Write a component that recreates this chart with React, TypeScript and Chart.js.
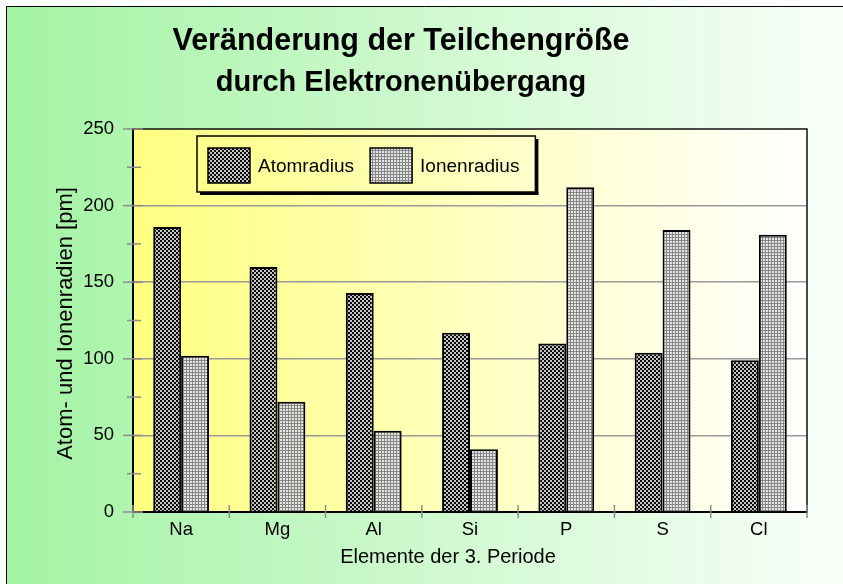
import React, { useEffect, useRef } from "react";
import { Chart, registerables } from "chart.js";

Chart.register(...registerables);

// ---- data ----
const categories = ["Na", "Mg", "Al", "Si", "P", "S", "Cl"];
const atomRadius = [186, 160, 143, 117, 110, 104, 99];
const ionRadius = [102, 72, 53, 41, 212, 184, 181];
const seriesLabels = ["Atomradius", "Ionenradius"];
const titleLines = ["Veränderung der Teilchengröße", "durch Elektronenübergang"];
const xAxisTitle = "Elemente der 3. Periode";
const yAxisTitle = "Atom- und Ionenradien [pm]";
const yMin = 0;
const yMax = 250;
const yMajorStep = 50;
const yMinorStep = 25;

const FONT = "'Liberation Sans', Arial, Helvetica, sans-serif";

function makePattern(
  ctx: CanvasRenderingContext2D,
  size: number,
  fn: (x: number, y: number) => string
) {
  const c = document.createElement("canvas");
  c.width = size;
  c.height = size;
  const t = c.getContext("2d")!;
  for (let y = 0; y < size; y++) {
    for (let x = 0; x < size; x++) {
      t.fillStyle = fn(x, y);
      t.fillRect(x, y, 1, 1);
    }
  }
  return ctx.createPattern(c, "repeat")!;
}

const decorPlugin = {
  id: "decor",
  beforeDraw(chart: any) {
    const { ctx, width, height, chartArea: a } = chart;
    ctx.save();
    ctx.fillStyle = "#ffffff";
    ctx.fillRect(0, 0, width, height);
    const g = ctx.createLinearGradient(6, 0, 900, 0);
    g.addColorStop(0, "#a3f3a3");
    g.addColorStop(1, "#ffffff");
    ctx.fillStyle = g;
    ctx.fillRect(6, 6, width - 6, height - 6);
    ctx.strokeStyle = "#000";
    ctx.lineWidth = 1;
    ctx.beginPath();
    ctx.moveTo(6.5, height);
    ctx.lineTo(6.5, 6.5);
    ctx.lineTo(width, 6.5);
    ctx.stroke();
    const pg = ctx.createLinearGradient(a.left, 0, a.right, 0);
    pg.addColorStop(0, "#ffff80");
    pg.addColorStop(1, "#ffffff");
    ctx.fillStyle = pg;
    ctx.fillRect(a.left, a.top, a.right - a.left, a.bottom - a.top);
    ctx.restore();
  },
  afterDraw(chart: any) {
    const { ctx, chartArea: a, scales } = chart;
    const xs = scales.x;
    const ys = scales.y;
    ctx.save();

    // frame top / right
    ctx.strokeStyle = "#111";
    ctx.lineWidth = 1.5;
    ctx.beginPath();
    ctx.moveTo(a.left, a.top);
    ctx.lineTo(a.right, a.top);
    ctx.lineTo(a.right, a.bottom);
    ctx.stroke();

    // y tick marks (major + minor)
    ctx.strokeStyle = "#8c8c8c";
    ctx.lineWidth = 1.5;
    for (let v = yMin; v <= yMax; v += yMinorStep) {
      const p = ys.getPixelForValue(v);
      const major = v % yMajorStep === 0;
      ctx.beginPath();
      ctx.moveTo(a.left - (major ? 10 : 6), p);
      ctx.lineTo(a.left + (major ? 10 : 8), p);
      ctx.stroke();
    }
    // x tick marks at category boundaries
    for (let i = 0; i <= categories.length; i++) {
      const p = xs.getPixelForValue(i - 0.5);
      ctx.beginPath();
      ctx.moveTo(p, a.bottom - 7);
      ctx.lineTo(p, a.bottom + 6);
      ctx.stroke();
    }

    // legend
    const ds = chart.data.datasets;
    const L = a.left + 64;
    const T = a.top + 7;
    const H = 56;
    ctx.font = `19px ${FONT}`;
    ctx.textBaseline = "alphabetic";
    ctx.textAlign = "left";
    let x = L + 11;
    const items: { sx: number; tx: number; label: string; bg: any }[] = [];
    ds.forEach((d: any) => {
      const tw = ctx.measureText(d.label).width;
      items.push({ sx: x, tx: x + 42 + 8, label: d.label, bg: d.backgroundColor });
      x += 42 + 8 + tw + 16;
    });
    const R = x;
    ctx.fillStyle = "#000";
    ctx.fillRect(L + 3, T + H, R - L, 3);
    ctx.fillRect(R, T + 3, 3, H);
    ctx.strokeStyle = "#000";
    ctx.lineWidth = 1.5;
    ctx.strokeRect(L, T, R - L, H);
    items.forEach((it) => {
      ctx.fillStyle = it.bg;
      ctx.fillRect(it.sx, T + 12, 42, 35);
      ctx.strokeStyle = "#000";
      ctx.lineWidth = 1.5;
      ctx.strokeRect(it.sx, T + 12, 42, 35);
      ctx.fillStyle = "#000";
      ctx.fillText(it.label, it.tx, T + 36);
    });

    // title
    ctx.fillStyle = "#000";
    ctx.textAlign = "center";
    ctx.font = `bold 30.5px ${FONT}`;
    ctx.fillText(titleLines[0], 401, 50);
    ctx.font = `bold 29px ${FONT}`;
    ctx.fillText(titleLines[1], 401, 91);

    // axis titles
    ctx.font = `20px ${FONT}`;
    ctx.fillText(xAxisTitle, 448, 563);
    ctx.font = `22px ${FONT}`;
    ctx.translate(71.5, (a.top + a.bottom) / 2 + 3);
    ctx.rotate(-Math.PI / 2);
    ctx.fillText(yAxisTitle, 0, 0);
    ctx.restore();
  },
};

export default function App() {
  const ref = useRef<HTMLCanvasElement>(null);
  useEffect(() => {
    document.body.style.margin = "0";
    const canvas = ref.current!;
    const c2d = canvas.getContext("2d")!;
    const atomPattern = makePattern(c2d, 4, (x, y) =>
      ((x >> 1) + (y >> 1)) % 2 ? "#c4c4c4" : "#0a0a0a"
    );
    const ionPattern = makePattern(c2d, 3, (x, y) =>
      x === 0 || y === 0 ? "#868686" : "#e4e4e4"
    );
    const chart = new Chart(canvas, {
      type: "bar",
      data: {
        labels: categories,
        datasets: [
          {
            label: seriesLabels[0],
            data: atomRadius,
            backgroundColor: atomPattern as any,
            borderColor: "#000",
            borderWidth: 2,
            categoryPercentage: 0.58,
            barPercentage: 1,
          },
          {
            label: seriesLabels[1],
            data: ionRadius,
            backgroundColor: ionPattern as any,
            borderColor: "#000",
            borderWidth: 2,
            categoryPercentage: 0.58,
            barPercentage: 1,
          },
        ],
      },
      options: {
        animation: false,
        responsive: false,
        devicePixelRatio: 1,
        layout: { padding: { left: 0, top: 129, right: 36, bottom: 0 } },
        plugins: {
          legend: { display: false },
          title: { display: false },
          tooltip: { enabled: false },
        },
        scales: {
          x: {
            type: "category",
            grid: { display: false, drawTicks: false },
            border: { display: true, color: "#000", width: 2 },
            ticks: {
              color: "#000",
              font: { family: FONT, size: 18.5 },
              padding: 7,
              maxRotation: 0,
              autoSkip: false,
            },
            afterFit: (s: any) => {
              s.height = 72;
            },
          },
          y: {
            min: yMin,
            max: yMax,
            grid: {
              drawTicks: false,
              lineWidth: 1.5,
              color: (ctx: any) =>
                ctx.tick && ctx.tick.value > yMin && ctx.tick.value < yMax
                  ? "#999999"
                  : "rgba(0,0,0,0)",
            },
            border: { display: true, color: "#000", width: 2 },
            ticks: {
              stepSize: yMajorStep,
              color: "#000",
              font: { family: FONT, size: 18.5 },
              padding: 19,
            },
            afterFit: (s: any) => {
              s.width = 133;
            },
          },
        },
      },
      plugins: [decorPlugin],
    });
    return () => chart.destroy();
  }, []);
  return (
    <div style={{ width: 843, height: 584 }}>
      <canvas
        ref={ref}
        width={843}
        height={584}
        style={{ display: "block", width: 843, height: 584 }}
      />
    </div>
  );
}
